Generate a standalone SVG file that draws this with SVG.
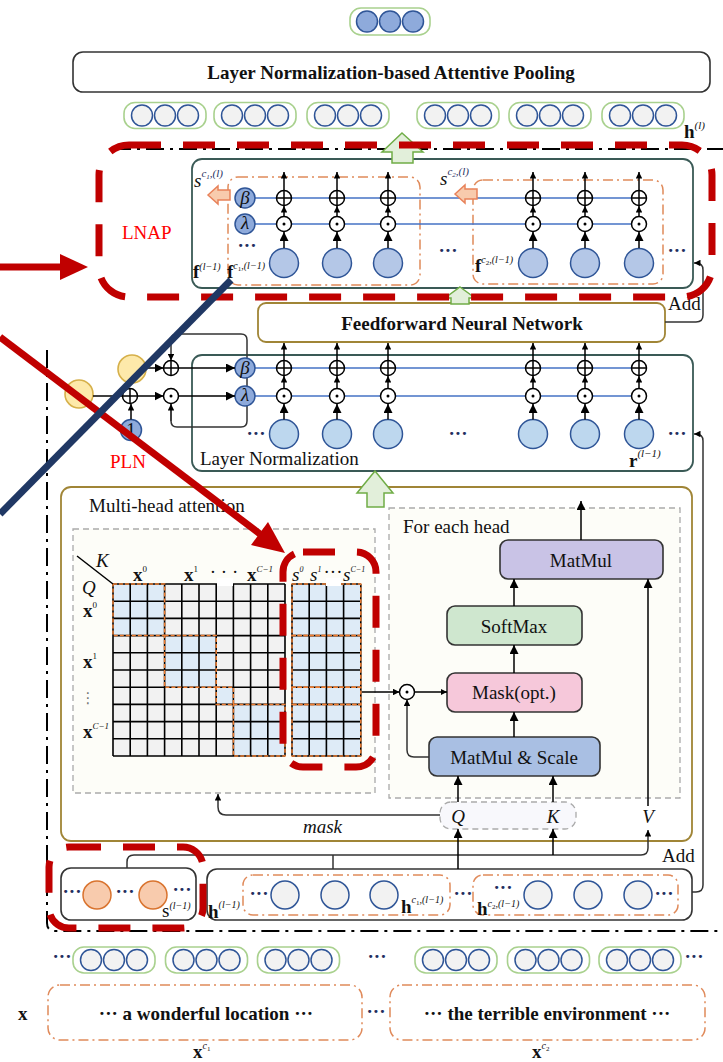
<svg xmlns="http://www.w3.org/2000/svg" width="723" height="1062" viewBox="0 0 723 1062">
<defs>
<style>
.t{font-family:"Liberation Serif","Times New Roman",serif;font-size:19px;fill:#111}
.b{font-weight:bold}
.i{font-style:italic}
.n{font-weight:normal}
.red{fill:#ff0000}
.dots{font-family:"Liberation Serif",serif;font-size:19px;font-weight:bold;fill:#1f2f5f}
.ln{stroke:#000;stroke-width:1.5;fill:none}
.gr{stroke:#333;stroke-width:1.5;fill:none}
.blu{stroke:#4472c4;stroke-width:1.5}
.bx{fill:#fff;stroke:#3a5a56;stroke-width:1.8}
.gl{fill:#fff;stroke:#a08536;stroke-width:1.8}
.bc{fill:#b4c7e7;stroke:#2f5597;stroke-width:1.5}
.bc2{fill:#bdd7ee;stroke:#2f5597;stroke-width:1.5}
.gc{fill:#f2f2f2;stroke:#2f5597;stroke-width:1.5}
.orc{fill:#f8cbad;stroke:#d9732e;stroke-width:1.5}
.sc{fill:#8eaadb;stroke:#2f5597;stroke-width:1.5}
.yc{fill:#fde9aa;stroke:#d6b04a;stroke-width:1.6}
.oc{fill:none;stroke:#e08a5a;stroke-width:1.5;stroke-dasharray:10 4 2 4}
.rd{fill:none;stroke:#c00000;stroke-width:7;stroke-dasharray:32 22}
.gd{stroke:#aaa;stroke-width:1.3;stroke-dasharray:6 4}
.dd{fill:none;stroke:#000;stroke-width:2;stroke-dasharray:18 6 3 6}
.ga{fill:#e2efda;stroke:#70ad47;stroke-width:1.5}
.pa{fill:#f8cbad;stroke:#e8825a;stroke-width:1.5}
.blk{stroke:#333;stroke-width:1.6}
.grid{stroke:#000;stroke-width:1.6;fill:none}
.od{fill:none;stroke:#ed7d31;stroke-width:1.5;stroke-dasharray:4 2}
</style>
<marker id="a" viewBox="0 0 10 10" refX="10" refY="5" markerWidth="9" markerHeight="9" markerUnits="userSpaceOnUse" orient="auto"><path d="M0,0L10,5L0,10z" fill="#000"/></marker>
<marker id="s" viewBox="0 0 10 10" refX="10" refY="5" markerWidth="6.5" markerHeight="6.5" markerUnits="userSpaceOnUse" orient="auto"><path d="M0,0L10,5L0,10z" fill="#000"/></marker>
<g id="op"><circle r="7.5" fill="#fff" stroke="#000" stroke-width="1.5"/><path d="M-7.5,0H7.5M0,-7.5V7.5" stroke="#000" stroke-width="1.5"/></g>
<g id="od"><circle r="7.5" fill="#fff" stroke="#000" stroke-width="1.5"/><circle r="1.5" fill="#000"/></g>
<g id="pg"><rect x="-41" y="-13" width="82" height="26" rx="11" fill="#fff" stroke="#a9d18e" stroke-width="1.6"/><circle cx="-23" r="10.5" class="gc"/><circle r="10.5" class="gc"/><circle cx="23" r="10.5" class="gc"/></g>
<g id="pb"><rect x="-40" y="-13.5" width="80" height="27" rx="11" fill="#fff" stroke="#a9d18e" stroke-width="1.6"/><circle cx="-23" r="10.5" class="sc"/><circle r="10.5" class="sc"/><circle cx="23" r="10.5" class="sc"/></g>
</defs>
<rect width="723" height="1062" fill="#fff"/>

<!-- outer dash-dot frame -->
<path class="dd" d="M113,149H723M47,350V923Q47,931 55,931H723"/>

<!-- top output -->
<g id="out-pill"><use href="#pb" x="390" y="21.5"/></g>
<g id="lnap-title">
<rect x="73" y="52" width="637" height="40" rx="10" fill="#fff" stroke="#333" stroke-width="1.6"/>
<text class="t b" x="391" y="79" font-size="20" text-anchor="middle">Layer Normalization-based Attentive Pooling</text>
</g>
<g id="h-l">
<use href="#pg" x="165" y="115.5"/><use href="#pg" x="255" y="115.5"/><use href="#pg" x="348" y="115.5"/>
<use href="#pg" x="458" y="115.5"/><use href="#pg" x="550" y="115.5"/><use href="#pg" x="643" y="115.5"/>
<text class="t b" x="684" y="138" font-size="19">h<tspan class="n i" font-size="11" dy="-9">(l)</tspan></text>
</g>

<!-- LNAP block -->
<g id="lnap">
<rect class="bx" x="192" y="159" width="501" height="129" rx="10"/>
<rect class="oc" x="228" y="177" width="192" height="108" rx="10"/>
<rect class="oc" x="473" y="180" width="190" height="104" rx="10"/>
<line class="blu" x1="254" y1="198" x2="647" y2="198"/>
<line class="blu" x1="254" y1="224" x2="647" y2="224"/>
<circle class="sc" cx="245" cy="198" r="10"/>
<text class="t i" x="245" y="203.5" font-size="15" text-anchor="middle">β</text>
<circle class="sc" cx="245" cy="224" r="10"/>
<text class="t i" x="245" y="229" font-size="15" text-anchor="middle">λ</text>
<g>
<circle class="bc" cx="284" cy="263" r="14.5"/><line class="ln" x1="284" y1="248" x2="284" y2="232" marker-end="url(#a)"/><use href="#od" x="284" y="224"/><line class="ln" x1="284" y1="216.5" x2="284" y2="206" marker-end="url(#s)"/><use href="#op" x="284" y="198"/><line class="ln" x1="284" y1="190.5" x2="284" y2="172" marker-end="url(#s)"/>
<circle class="bc" cx="337" cy="263" r="14.5"/><line class="ln" x1="337" y1="248" x2="337" y2="232" marker-end="url(#a)"/><use href="#od" x="337" y="224"/><line class="ln" x1="337" y1="216.5" x2="337" y2="206" marker-end="url(#s)"/><use href="#op" x="337" y="198"/><line class="ln" x1="337" y1="190.5" x2="337" y2="172" marker-end="url(#s)"/>
<circle class="bc" cx="388" cy="263" r="14.5"/><line class="ln" x1="388" y1="248" x2="388" y2="232" marker-end="url(#a)"/><use href="#od" x="388" y="224"/><line class="ln" x1="388" y1="216.5" x2="388" y2="206" marker-end="url(#s)"/><use href="#op" x="388" y="198"/><line class="ln" x1="388" y1="190.5" x2="388" y2="172" marker-end="url(#s)"/>
<circle class="bc" cx="533" cy="263" r="14.5"/><line class="ln" x1="533" y1="248" x2="533" y2="232" marker-end="url(#a)"/><use href="#od" x="533" y="224"/><line class="ln" x1="533" y1="216.5" x2="533" y2="206" marker-end="url(#s)"/><use href="#op" x="533" y="198"/><line class="ln" x1="533" y1="190.5" x2="533" y2="172" marker-end="url(#s)"/>
<circle class="bc" cx="585" cy="263" r="14.5"/><line class="ln" x1="585" y1="248" x2="585" y2="232" marker-end="url(#a)"/><use href="#od" x="585" y="224"/><line class="ln" x1="585" y1="216.5" x2="585" y2="206" marker-end="url(#s)"/><use href="#op" x="585" y="198"/><line class="ln" x1="585" y1="190.5" x2="585" y2="172" marker-end="url(#s)"/>
<circle class="bc" cx="639" cy="263" r="14.5"/><line class="ln" x1="639" y1="248" x2="639" y2="232" marker-end="url(#a)"/><use href="#od" x="639" y="224"/><line class="ln" x1="639" y1="216.5" x2="639" y2="206" marker-end="url(#s)"/><use href="#op" x="639" y="198"/><line class="ln" x1="639" y1="190.5" x2="639" y2="172" marker-end="url(#s)"/>
</g>
<text class="dots" x="247" y="252" text-anchor="middle">···</text>
<text class="dots" x="448" y="257" text-anchor="middle">···</text>
<text class="dots" x="677" y="257" text-anchor="middle">···</text>
<polygon class="pa" points="208,195 218,186 218,190 230,190 230,200 218,200 218,204"/>
<polygon class="pa" points="455,194 465,185 465,189 477,189 477,199 465,199 465,203"/>
<text class="t i" x="194" y="187" font-size="20">s<tspan font-size="11" dy="-10" fill="#1f2f5f">c</tspan><tspan font-size="7" dy="2" fill="#1f2f5f">1</tspan><tspan font-size="11" dy="-2" fill="#1f2f5f">,(l)</tspan></text>
<text class="t i" x="440" y="185" font-size="20">s<tspan font-size="11" dy="-10" fill="#1f2f5f">c</tspan><tspan font-size="7" dy="2" fill="#1f2f5f">2</tspan><tspan font-size="11" dy="-2" fill="#1f2f5f">,(l)</tspan></text>
<text class="t b" x="193" y="278" font-size="19">f<tspan class="n i" font-size="10" dy="-8">(l−1)</tspan></text>
<text class="t b" x="227" y="278" font-size="19">f<tspan class="n i" font-size="10" dy="-9">c</tspan><tspan class="n" font-size="7" dy="2">1</tspan><tspan class="n i" font-size="10" dy="-2">,(l−1)</tspan></text>
<text class="t b" x="475" y="272" font-size="19">f<tspan class="n i" font-size="10" dy="-9">c</tspan><tspan class="n" font-size="7" dy="2">2</tspan><tspan class="n i" font-size="10" dy="-2">,(l−1)</tspan></text>
<text class="t red" x="122" y="239" font-size="19">LNAP</text>
</g>

<!-- FFN -->
<g id="ffn">
<rect class="gl" x="258" y="303" width="407" height="39" rx="8"/>
<text class="t b" x="462" y="330" font-size="20" text-anchor="middle">Feedforward Neural Network</text>
</g>
<text class="t" x="668" y="310" font-size="19">Add</text>

<!-- Layer Normalization -->
<g id="ln">
<rect class="bx" x="192" y="355" width="501" height="116" rx="10"/>
<line class="blu" x1="254" y1="368" x2="647" y2="368"/>
<line class="blu" x1="254" y1="396" x2="647" y2="396"/>
<g>
<circle class="bc2" cx="284" cy="434" r="14.5"/><line class="ln" x1="284" y1="419.5" x2="284" y2="404" marker-end="url(#a)"/><use href="#od" x="284" y="396"/><line class="ln" x1="284" y1="388.5" x2="284" y2="376" marker-end="url(#s)"/><use href="#op" x="284" y="368"/><line class="ln" x1="284" y1="360.5" x2="284" y2="343" marker-end="url(#s)"/>
<circle class="bc2" cx="337" cy="434" r="14.5"/><line class="ln" x1="337" y1="419.5" x2="337" y2="404" marker-end="url(#a)"/><use href="#od" x="337" y="396"/><line class="ln" x1="337" y1="388.5" x2="337" y2="376" marker-end="url(#s)"/><use href="#op" x="337" y="368"/><line class="ln" x1="337" y1="360.5" x2="337" y2="343" marker-end="url(#s)"/>
<circle class="bc2" cx="388" cy="434" r="14.5"/><line class="ln" x1="388" y1="419.5" x2="388" y2="404" marker-end="url(#a)"/><use href="#od" x="388" y="396"/><line class="ln" x1="388" y1="388.5" x2="388" y2="376" marker-end="url(#s)"/><use href="#op" x="388" y="368"/><line class="ln" x1="388" y1="360.5" x2="388" y2="343" marker-end="url(#s)"/>
<circle class="bc2" cx="533" cy="434" r="14.5"/><line class="ln" x1="533" y1="419.5" x2="533" y2="404" marker-end="url(#a)"/><use href="#od" x="533" y="396"/><line class="ln" x1="533" y1="388.5" x2="533" y2="376" marker-end="url(#s)"/><use href="#op" x="533" y="368"/><line class="ln" x1="533" y1="360.5" x2="533" y2="343" marker-end="url(#s)"/>
<circle class="bc2" cx="585" cy="434" r="14.5"/><line class="ln" x1="585" y1="419.5" x2="585" y2="404" marker-end="url(#a)"/><use href="#od" x="585" y="396"/><line class="ln" x1="585" y1="388.5" x2="585" y2="376" marker-end="url(#s)"/><use href="#op" x="585" y="368"/><line class="ln" x1="585" y1="360.5" x2="585" y2="343" marker-end="url(#s)"/>
<circle class="bc2" cx="639" cy="434" r="14.5"/><line class="ln" x1="639" y1="419.5" x2="639" y2="404" marker-end="url(#a)"/><use href="#od" x="639" y="396"/><line class="ln" x1="639" y1="388.5" x2="639" y2="376" marker-end="url(#s)"/><use href="#op" x="639" y="368"/><line class="ln" x1="639" y1="360.5" x2="639" y2="343" marker-end="url(#s)"/>
</g>
<text class="dots" x="256" y="440" text-anchor="middle">···</text>
<text class="dots" x="458" y="440" text-anchor="middle">···</text>
<text class="dots" x="677" y="440" text-anchor="middle">···</text>
<text class="t" x="200" y="465" font-size="20">Layer Normalization</text>
<text class="t b" x="629" y="467" font-size="19">r<tspan class="n i" font-size="11" dy="-10">(l−1)</tspan></text>
</g>

<!-- PLN -->
<g id="pln">
<path class="gr" d="M171,344V340Q171,334 177,334H241Q247,334 247,340V421Q247,427 241,427H177Q171,427 171,421V404"/>
<line class="gr" x1="171" y1="344" x2="171" y2="360.5" marker-end="url(#s)"/>
<path class="gr" d="M171,421V404" marker-end="url(#s)"/>
<circle class="sc" cx="245" cy="368" r="10"/>
<text class="t i" x="245" y="373.5" font-size="15" text-anchor="middle">β</text>
<circle class="sc" cx="245" cy="396" r="10"/>
<text class="t i" x="245" y="401" font-size="15" text-anchor="middle">λ</text>
<circle class="yc" cx="79" cy="394" r="14"/>
<circle class="yc" cx="132" cy="369" r="14"/>
<use href="#op" x="130" y="396"/>
<use href="#op" x="171" y="368"/>
<use href="#od" x="171" y="396"/>
<circle class="sc" cx="131" cy="430" r="10.5"/>
<text class="t" x="131" y="436" font-size="15" text-anchor="middle">1</text>
<line class="ln" x1="93" y1="396" x2="122.5" y2="396"/>
<line class="ln" x1="131" y1="419.5" x2="131" y2="404" marker-end="url(#s)"/>
<line class="ln" x1="137.5" y1="396" x2="163.5" y2="396" marker-end="url(#a)"/>
<line class="ln" x1="146" y1="368" x2="163.5" y2="368" marker-end="url(#a)"/>
<line class="ln" x1="178.5" y1="368" x2="235" y2="368" marker-end="url(#a)"/>
<line class="ln" x1="178.5" y1="396" x2="235" y2="396" marker-end="url(#a)"/>
<text class="t red" x="110" y="468" font-size="19">PLN</text>
</g>

<!-- Multi-head attention -->
<g id="mha">
<rect class="gl" x="61" y="487" width="631" height="354" rx="10" fill="#fffffc"/>
<text class="t" x="89" y="512" font-size="20">Multi-head attention</text>
<rect class="gd" x="73" y="529" width="302" height="264" fill="#fdfdf8"/>
<rect class="gd" x="389" y="508" width="291" height="290" fill="#fdfdf8"/>
<g id="matrix">
<rect x="113" y="584" width="172" height="172" fill="#f2f2f2"/>
<rect x="113" y="584" width="51.6" height="51.6" fill="#deebf7"/>
<rect x="164.6" y="635.6" width="51.6" height="51.6" fill="#deebf7"/>
<rect x="216.2" y="687.2" width="17.2" height="17.2" fill="#deebf7"/>
<rect x="233.4" y="704.4" width="51.6" height="51.6" fill="#deebf7"/>
<rect x="292" y="584" width="68.8" height="172" fill="#deebf7"/>
<path class="grid" d="M113,584V756M130.2,584V756M147.4,584V756M164.6,584V756M181.8,584V756M199,584V756M216.2,584V756M233.4,584V756M250.6,584V756M267.8,584V756M285,584V756M113,584H285M113,601.2H285M113,618.4H285M113,635.6H285M113,652.8H285M113,670H285M113,687.2H285M113,704.4H285M113,721.6H285M113,738.8H285M113,756H285M292,584V756M309.2,584V756M326.4,584V756M343.6,584V756M360.8,584V756M292,584H360.8M292,601.2H360.8M292,618.4H360.8M292,635.6H360.8M292,652.8H360.8M292,670H360.8M292,687.2H360.8M292,704.4H360.8M292,721.6H360.8M292,738.8H360.8M292,756H360.8"/>
<rect class="od" x="113" y="584" width="51.6" height="51.6"/>
<rect class="od" x="164.6" y="635.6" width="51.6" height="51.6"/>
<rect class="od" x="216.2" y="687.2" width="17.2" height="17.2"/>
<rect class="od" x="233.4" y="704.4" width="51.6" height="51.6"/>
<rect class="od" x="292" y="584" width="68.8" height="51.6"/>
<rect class="od" x="292" y="635.6" width="68.8" height="51.6"/>
<rect class="od" x="292" y="687.2" width="68.8" height="17.2"/>
<rect class="od" x="292" y="704.4" width="68.8" height="51.6"/>
<rect x="217" y="578" width="16" height="8" fill="#fff"/>
<rect x="326" y="578" width="15" height="8" fill="#fff"/>
<line x1="77" y1="556" x2="113" y2="584" stroke="#000" stroke-width="1.5"/>
<text class="t i" x="96" y="567" font-size="17">K</text>
<text class="t i" x="82" y="594" font-size="18">Q</text>
<text class="t b" x="133" y="581" font-size="17">x<tspan class="n" font-size="9" dy="-9">0</tspan></text>
<text class="t b" x="184" y="581" font-size="17">x<tspan class="n" font-size="9" dy="-9">1</tspan></text>
<text class="t" x="224" y="578" font-size="15" text-anchor="middle">· · ·</text>
<text class="t b" x="247" y="581" font-size="17">x<tspan class="n i" font-size="9" dy="-9">C−1</tspan></text>
<text class="t i" x="292" y="581" font-size="16">s<tspan class="n" font-size="8" dy="-9">0</tspan></text>
<text class="t i" x="310" y="581" font-size="16">s<tspan class="n" font-size="8" dy="-9">1</tspan></text>
<text class="t" x="333" y="578" font-size="12" text-anchor="middle">···</text>
<text class="t i" x="343" y="581" font-size="16">s<tspan class="n" font-size="8" dy="-9">C−1</tspan></text>
<text class="t b" x="83" y="617" font-size="17">x<tspan class="n" font-size="9" dy="-9">0</tspan></text>
<text class="t b" x="83" y="668" font-size="17">x<tspan class="n" font-size="9" dy="-9">1</tspan></text>
<text x="88" y="703" font-family="'DejaVu Sans',sans-serif" font-size="15" fill="#777" text-anchor="middle">⋮</text>
<text class="t b" x="83" y="738" font-size="17">x<tspan class="n i" font-size="9" dy="-9">C−1</tspan></text>
</g>
<text class="t" x="403" y="533" font-size="19">For each head</text>
<g id="matmul"><rect class="blk" x="500" y="540" width="163" height="39" rx="8" fill="#c9c3e6"/><text class="t" x="581" y="567" text-anchor="middle">MatMul</text></g>
<g id="softmax"><rect class="blk" x="447" y="606" width="135" height="39" rx="8" fill="#cfe7cf"/><text class="t" x="514" y="633" text-anchor="middle">SoftMax</text></g>
<g id="mask"><rect class="blk" x="447" y="673" width="135" height="39" rx="8" fill="#f6c8da"/><text class="t" x="514" y="699" text-anchor="middle">Mask(opt.)</text></g>
<g id="matmul-scale"><rect class="blk" x="429" y="737" width="171" height="39" rx="8" fill="#a9bfe3"/><text class="t" x="514" y="764" text-anchor="middle">MatMul &amp; Scale</text></g>
<use href="#od" x="407" y="692"/>
<g id="qk"><rect class="gd" x="440" y="802" width="136" height="27" rx="11" fill="#f8f8fc"/>
<text class="t i" x="458" y="823" font-size="19" text-anchor="middle" fill="#1f2f5f">Q</text>
<text class="t i" x="553" y="823" font-size="19" text-anchor="middle" fill="#1f2f5f">K</text></g>
<text class="t i" x="648" y="823" font-size="19" text-anchor="middle" fill="#1f2f5f">V</text>
<text class="t i" x="303" y="833" font-size="19" fill="#1f2f5f">mask</text>
</g>

<!-- bottom inputs -->
<g id="s-box">
<rect x="61" y="868" width="135" height="52" rx="10" fill="#fff" stroke="#333" stroke-width="1.6"/>
<circle class="orc" cx="97" cy="895" r="14"/>
<circle class="orc" cx="153" cy="895" r="14"/>
<text class="dots" x="72" y="898" text-anchor="middle">···</text>
<text class="dots" x="125" y="898" text-anchor="middle">···</text>
<text class="dots" x="182" y="896" text-anchor="middle">···</text>
<text class="t" x="162" y="917" font-size="17">s<tspan class="i" font-size="10" dy="-8">(l−1)</tspan></text>
</g>
<g id="h-box">
<rect x="207" y="869" width="485" height="51" rx="10" fill="#fff" stroke="#333" stroke-width="1.6"/>
<rect class="oc" x="243" y="875" width="207" height="40" rx="10"/>
<rect class="oc" x="473" y="875" width="205" height="40" rx="10"/>
<circle class="gc" cx="285" cy="895" r="14"/><circle class="gc" cx="335" cy="895" r="14"/><circle class="gc" cx="384" cy="895" r="14"/>
<circle class="gc" cx="538" cy="895" r="14"/><circle class="gc" cx="588" cy="895" r="14"/><circle class="gc" cx="638" cy="895" r="14"/>
<text class="dots" x="259" y="900" text-anchor="middle">···</text>
<text class="dots" x="463" y="900" text-anchor="middle">···</text>
<text class="dots" x="503" y="894" text-anchor="middle">···</text>
<text class="dots" x="664" y="900" text-anchor="middle">···</text>
<text class="t b" x="208" y="918" font-size="19">h<tspan class="n i" font-size="10" dy="-10">(l−1)</tspan></text>
<text class="t b" x="401" y="913" font-size="19">h<tspan class="n i" font-size="10" dy="-10">c</tspan><tspan class="n" font-size="7" dy="2">1</tspan><tspan class="n i" font-size="10" dy="-2">,(l−1)</tspan></text>
<text class="t b" x="477" y="915" font-size="19">h<tspan class="n i" font-size="10" dy="-8">c</tspan><tspan class="n" font-size="7" dy="2">2</tspan><tspan class="n i" font-size="10" dy="-2">,(l−1)</tspan></text>
</g>
<text class="t" x="662" y="862" font-size="19">Add</text>

<g id="x-embed">
<text class="dots" x="62" y="963" text-anchor="middle">···</text>
<use href="#pg" x="114" y="960"/><use href="#pg" x="206.5" y="960"/><use href="#pg" x="298.5" y="960"/>
<text class="dots" x="377" y="963" text-anchor="middle">···</text>
<use href="#pg" x="456" y="960"/><use href="#pg" x="548.5" y="960"/><use href="#pg" x="640" y="960"/>
<text class="dots" x="694" y="963" text-anchor="middle">···</text>
</g>
<g id="x-text">
<text class="t b" x="18" y="1020" font-size="20">x</text>
<rect class="oc" x="48" y="985" width="314" height="55" rx="12"/>
<text class="t b" x="206" y="1020" font-size="19" text-anchor="middle">··· a wonderful location ···</text>
<text class="dots" x="376" y="1018" text-anchor="middle">···</text>
<rect class="oc" x="390" y="985" width="315" height="55" rx="12"/>
<text class="t b" x="547" y="1020" font-size="19" text-anchor="middle">··· the terrible environment ···</text>
<text class="t b" x="193" y="1058" font-size="18">x<tspan class="n i" font-size="10" dy="-9">c</tspan><tspan class="n" font-size="7" dy="2">1</tspan></text>
<text class="t b" x="532" y="1058" font-size="18">x<tspan class="n i" font-size="10" dy="-9">c</tspan><tspan class="n" font-size="7" dy="2">2</tspan></text>
</g>

<!-- connectors -->
<g id="connectors">
<polygon class="ga" points="402,133 423,152 413,152 413,163 392,163 392,152 382,152"/>
<polygon class="ga" points="460,287 475,298 469,298 469,304 451,304 451,298 445,298"/>
<polygon class="ga" points="375,471 393,493 384,493 384,507 367,507 367,493 357,493"/>
<path class="gr" d="M665,322H696Q703,322 703,315V270Q703,263 696,263H694" marker-end="url(#s)"/>
<path class="gr" d="M692,892H696Q703,892 703,885V441Q703,434 696,434H694" marker-end="url(#s)"/>
<line class="ln" x1="581" y1="540" x2="581" y2="501" marker-end="url(#a)"/>
<line class="ln" x1="514" y1="606" x2="514" y2="579" marker-end="url(#a)"/>
<line class="ln" x1="514" y1="673" x2="514" y2="645" marker-end="url(#a)"/>
<line class="ln" x1="514" y1="737" x2="514" y2="712" marker-end="url(#a)"/>
<line class="ln" x1="362" y1="692" x2="399.5" y2="692" marker-end="url(#s)"/>
<line class="ln" x1="414.5" y1="692" x2="447" y2="692" marker-end="url(#s)"/>
<path class="gr" d="M429,757H414Q407,757 407,750V699.5" marker-end="url(#s)"/>
<line class="ln" x1="648" y1="806" x2="648" y2="579" marker-end="url(#a)"/>
<line class="ln" x1="458" y1="802" x2="458" y2="776" marker-end="url(#a)"/>
<line class="ln" x1="553" y1="802" x2="553" y2="776" marker-end="url(#a)"/>
<path class="gr" d="M440,815H226Q218,815 218,807V794" marker-end="url(#s)"/>
<path class="gr" d="M127,868V862Q127,855 134,855H641Q648,855 648,848V830" marker-end="url(#s)"/>
<line class="gr" x1="333" y1="855" x2="333" y2="869"/>
<line class="ln" x1="458" y1="869" x2="458" y2="829" marker-end="url(#a)"/>
<line class="ln" x1="553" y1="855" x2="553" y2="829" marker-end="url(#a)"/>
</g>

<!-- highlight overlays -->
<g id="highlights">
<rect class="rd" x="99" y="145" width="613" height="152" rx="30"/>
<rect class="rd" x="283" y="552" width="93" height="215" rx="20"/>
<rect class="rd" x="49" y="847" width="154" height="81" rx="20"/>
<line x1="0" y1="267" x2="62" y2="267" stroke="#c00000" stroke-width="7"/>
<polygon points="60,254 88,267 60,280" fill="#c00000"/>
<line x1="0" y1="337" x2="260" y2="534" stroke="#c00000" stroke-width="7"/>
<polygon points="285,553 251,545 268,522" fill="#c00000"/>
<line x1="231" y1="280" x2="0" y2="514" stroke="#203864" stroke-width="7"/>
</g>
</svg>
